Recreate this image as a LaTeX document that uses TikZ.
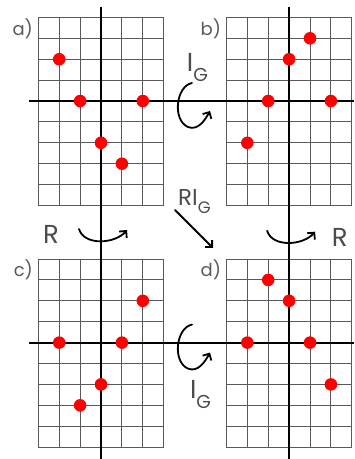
\documentclass[tikz,border=0pt]{standalone}
\usepackage{fontspec}
\setmainfont{Poppins}
\usepackage{tikz}
\usetikzlibrary{arrows.meta,backgrounds}
\tikzset{
  rejilla/.style={step=0.735cm,black!65,line width=0.9pt},
  ejes/.style={black,line width=2.2pt},
  punto/.style={fill=red},
  giro/.style={-{Straight Barb[length=5pt,width=10pt]},line width=1.8pt,line cap=round,black},
  rotulo/.style={font=\fontsize{26}{28}\selectfont,text=black!70,inner sep=0pt,anchor=base west},
  letra/.style={font=\fontsize{18}{20}\selectfont,text=black!65,inner sep=0pt,anchor=base east}
}
\newcommand{\IG}{I\raisebox{-0.38em}{\scalebox{0.72}{G}}}

\begin{document}
\begin{tikzpicture}[x=0.735cm,y=0.735cm]
\useasboundingbox (-4.833,4.833) rectangle (12.105,-17.129);
% a)
\begin{scope}
\begin{scope}[on background layer]
\draw[rejilla] (-3,-5) grid (3,4);
\end{scope}
\node[letra] (etqA) at (-3.25,3.15) {a)};
\fill[punto] (-2,2) circle (0.3) (-1,0) circle (0.3) (2,0) circle (0.3) (0,-2) circle (0.3) (1,-3) circle (0.3);
\end{scope}
% b)
\begin{scope}[shift={(9,0)}]
\begin{scope}[on background layer]
\draw[rejilla] (-3,-5) grid (3,4);
\end{scope}
\node[letra] (etqB) at (-3.25,3.15) {b)};
\fill[punto] (1,3) circle (0.3) (0,2) circle (0.3) (-1,0) circle (0.3) (2,0) circle (0.3) (-2,-2) circle (0.3);
\end{scope}
% c)
\begin{scope}[shift={(0,-11.56)}]
\begin{scope}[on background layer]
\draw[rejilla] (-3,-5) grid (3,4);
\end{scope}
\node[letra] (etqC) at (-3.25,3.15) {c)};
\fill[punto] (2,2) circle (0.3) (-2,0) circle (0.3) (1,0) circle (0.3) (0,-2) circle (0.3) (-1,-3) circle (0.3);
\draw[giro] (4.354,0.861) .. controls (3.589,0.718) and (3.397,-0.909) .. (4.163,-1.244) .. controls (4.641,-1.435) and (4.976,-0.909) .. (5.215,-0.478);
\node[rotulo] (igC) at (4.25,-2.69) {\IG};
\end{scope}
% d)
\begin{scope}[shift={(9,-11.56)}]
\begin{scope}[on background layer]
\draw[rejilla] (-3,-5) grid (3,4);
\end{scope}
\node[letra] (etqD) at (-3.25,3.15) {d)};
\fill[punto] (-1,3) circle (0.3) (0,2) circle (0.3) (-2,0) circle (0.3) (1,0) circle (0.3) (2,-2) circle (0.3);
\end{scope}
% ejes
\begin{scope}[on background layer]
\draw[ejes] (-3.45,0) -- (12.105,0) (-3.45,-11.56) -- (12.105,-11.56);
\draw[ejes] (0,4.5) -- (0,-17.13) (9,4.5) -- (9,-17.13);
\end{scope}
% giros
\draw[giro] (4.354,0.861) .. controls (3.589,0.718) and (3.397,-0.909) .. (4.163,-1.244) .. controls (4.641,-1.435) and (4.976,-0.909) .. (5.215,-0.478);
\node[rotulo] (igA) at (4.1,1.39) {\IG};
\draw[giro] (-1.053,-6.124) .. controls (-0.813,-6.938) and (0.670,-6.842) .. (1.244,-6.172);
\node[rotulo] (rA) at (-2.775,-6.794) {R};
\begin{scope}[shift={(9,-0.08)}]
\draw[giro] (-1.053,-6.124) .. controls (-0.813,-6.938) and (0.670,-6.842) .. (1.244,-6.172);
\end{scope}
\node[rotulo] (rB) at (11.04,-6.97) {R};
\coordinate (ini) at (3.541,-5.215);
\coordinate (fin) at (5.359,-7.033);
\draw[giro] (ini) -- (fin);
\node[rotulo,font=\fontsize{23}{25}\selectfont] (rig) at (3.684,-4.976) {R\IG};
\end{tikzpicture}
\end{document}
